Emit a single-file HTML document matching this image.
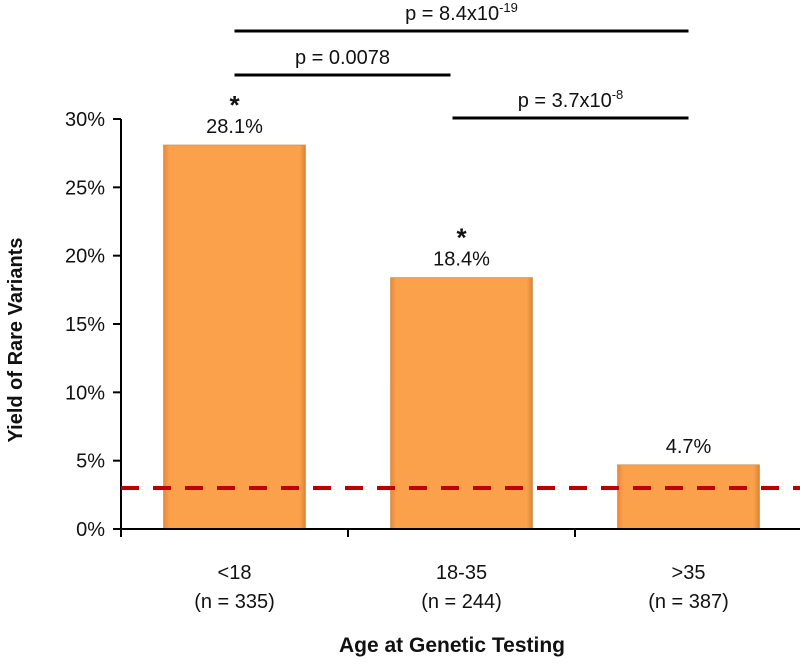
<!DOCTYPE html>
<html><head><meta charset="utf-8"><style>
body{margin:0;background:#fff;}
svg text{font-family:"Liberation Sans",sans-serif;}
</style></head><body>
<svg id="chart" width="800" height="660" viewBox="0 0 800 660" xmlns="http://www.w3.org/2000/svg">
<defs>
<linearGradient id="bg" x1="0" x2="1" y1="0" y2="0">
<stop offset="0" stop-color="#e8893a"/><stop offset="0.04" stop-color="#fba04b"/><stop offset="0.96" stop-color="#fba04b"/><stop offset="1" stop-color="#d98435"/>
</linearGradient>
</defs>
<g id="plot"></g>
</svg>
<script>
const categories=["<18","18-35",">35"];
const counts=["(n = 335)","(n = 244)","(n = 387)"];
const values=[28.1,18.4,4.7];
const starred=[true,true,false];
const yTicks=[0,5,10,15,20,25,30];
const refLine=3;
const comparisons=[{from:0,to:1,label:"p = 0.0078",sup:""},{from:1,to:2,label:"p = 3.7x10",sup:"-8"},{from:0,to:2,label:"p = 8.4x10",sup:"-19"}];
const NS="http://www.w3.org/2000/svg";
const g=document.getElementById('plot');
const x0=121,x1=802,y0=529,y30=119;
const y=v=>y0-(v/30)*(y0-y30);
const band=(x1-x0)/categories.length;
const cx=i=>x0+band*(i+0.5);
function mk(t,a,p){const e=document.createElementNS(NS,t);for(const k in a)e.setAttribute(k,a[k]);(p||g).appendChild(e);return e;}
values.forEach((v,i)=>{
 const r=mk('rect',{x:cx(i)-71,y:y(v),width:142,height:y0-y(v),fill:'url(#bg)',stroke:'#c8884a','stroke-width':0.6});
 
 
 const t=mk('text',{x:cx(i),y:y(v)-12,'text-anchor':'middle','font-size':20,fill:'#111'});t.textContent=v.toFixed(1)+'%';
 
 
 if(starred[i]){const s=mk('text',{x:cx(i),y:y(v)-31,'text-anchor':'middle','font-size':26,'font-weight':'bold',fill:'#111'});s.textContent='*';
 
 }
 const c1=mk('text',{x:cx(i),y:579,'text-anchor':'middle','font-size':20,fill:'#111'});c1.textContent=categories[i];
 
 
 const c2=mk('text',{x:cx(i),y:608,'text-anchor':'middle','font-size':20,fill:'#111'});c2.textContent=counts[i];
 
 
});
const ya=mk('line',{x1:x0,y1:y30,x2:x0,y2:y0+1,stroke:'#000','stroke-width':2});


const xa=mk('line',{x1:x0-8,y1:y0,x2:x1,y2:y0,stroke:'#000','stroke-width':2});


yTicks.forEach(v=>{
 mk('line',{x1:x0-8,y1:y(v),x2:x0,y2:y(v),stroke:'#000','stroke-width':2});
 const t=mk('text',{x:x0-16,y:y(v)+7,'text-anchor':'end','font-size':20,fill:'#111'});t.textContent=v+'%';
 
 
});
for(let i=0;i<=categories.length;i++){mk('line',{x1:x0+band*i,y1:y0,x2:x0+band*i,y2:y0+8,stroke:'#000','stroke-width':2});}
const rl=mk('line',{x1:x0,y1:y(refLine),x2:800,y2:y(refLine),stroke:'#c00000','stroke-width':4,'stroke-dasharray':'18 14'});


const cy=[75,118,31];
const trimL=[0,-9,0],trimR=[-11,0,0];
comparisons.forEach((c,k)=>{
 const xa1=cx(c.from)+trimL[k],xb=cx(c.to)+trimR[k];
 const l=mk('line',{x1:xa1,y1:cy[k],x2:xb,y2:cy[k],stroke:'#000','stroke-width':3});
 
 
 const t=mk('text',{x:(xa1+xb)/2,y:cy[k]-11,'text-anchor':'middle','font-size':20,fill:'#111'});
 t.textContent=c.label;
 if(c.sup){const s=document.createElementNS(NS,'tspan');s.setAttribute('dy','-8');s.setAttribute('font-size','13');s.textContent=c.sup;t.appendChild(s);}
 
 
});
const yt=mk('text',{x:0,y:0,transform:'translate(22,340) rotate(-90)','text-anchor':'middle','font-size':20,'font-weight':'bold',fill:'#111'});yt.textContent='Yield of Rare Variants';


const xt=mk('text',{x:452,y:652,'text-anchor':'middle','font-size':21,'font-weight':'bold',fill:'#111'});xt.textContent='Age at Genetic Testing';


</script>
</body></html>
